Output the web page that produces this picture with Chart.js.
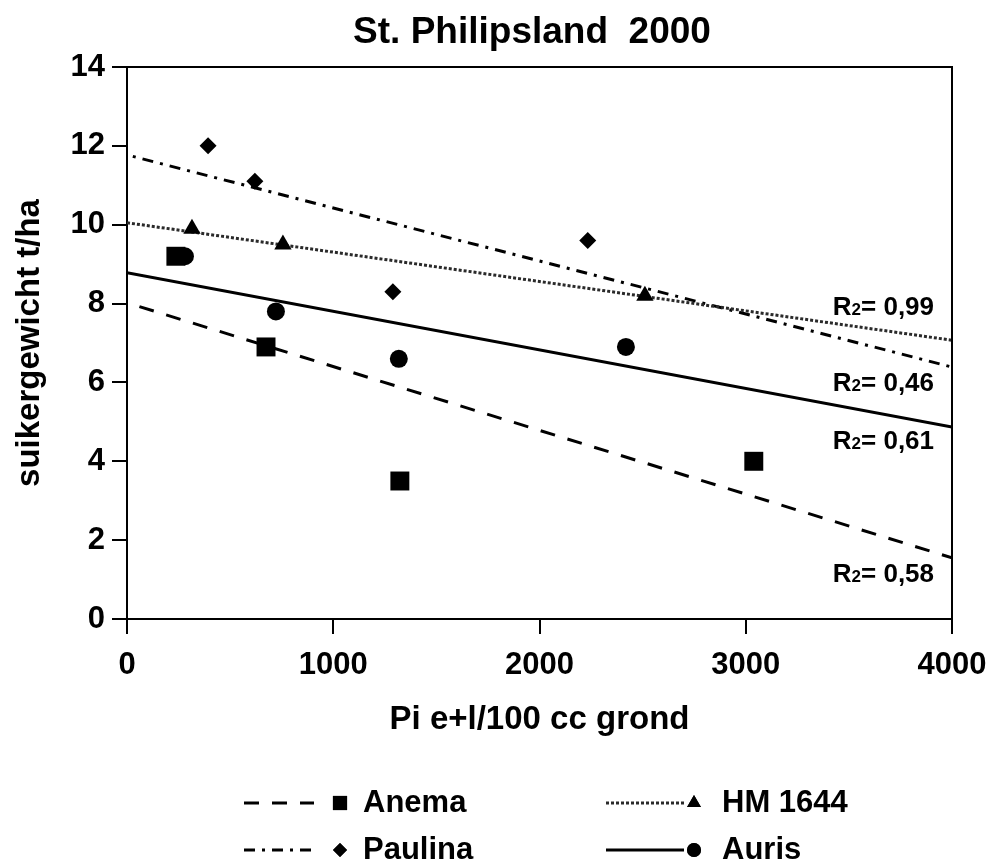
<!DOCTYPE html>
<html><head><meta charset="utf-8">
<script src="https://cdn.jsdelivr.net/npm/chart.js@4"></script>
<style>html,body{margin:0;padding:0;background:#fff;} #wrap{width:994px;height:867px;position:relative;}</style>
</head><body><div id="wrap"><canvas id="c"></canvas></div>
<script>
// ---- data ----
const chartTitle = 'St. Philipsland  2000';
const xTitle = 'Pi e+l/100 cc grond';
const yTitle = 'suikergewicht t/ha';
const seriesNames = ['Anema', 'HM 1644', 'Paulina', 'Auris'];
const anemaX = [237, 674, 1323, 3039];
const anemaY = [9.2, 6.9, 3.5, 4.0];
const hmX = [315, 756, 2511];
const hmY = [9.9, 9.5, 8.2];
const paulinaX = [393, 620, 1289, 2234];
const paulinaY = [12.0, 11.1, 8.3, 9.6];
const aurisX = [281, 722, 1318, 2419];
const aurisY = [9.2, 7.8, 6.6, 6.9];
const trendX = [0, 4000];
const anemaTrend = [8.02, 1.55];
const hmTrend = [10.05, 7.07];
const paulinaTrend = [11.77, 6.39];
const aurisTrend = [8.78, 4.87];
const r2Values = ['0,99', '0,46', '0,61', '0,58'];
const r2X = [3422, 3422, 3422, 3422];
const r2Y = [7.94, 6.01, 4.54, 1.17];
const xTicks = [0, 1000, 2000, 3000, 4000];
const yTicks = [0, 2, 4, 6, 8, 10, 12, 14];

// ---- styles ----
const FONT = 'Liberation Sans, Arial, Helvetica, sans-serif';
const styles = [
  {color: '#000', dash: [15, 13], dashOffset: 15, point: 'rect', r: 13.4, legR: 10},
  {color: '#2a2a2a', dash: [3, 2], dashOffset: 0, point: 'triangle', r: 10, legR: 8},
  {color: '#000', dash: [11, 7, 3, 7], dashOffset: 12, point: 'rectRot', r: 8.5, legR: 7},
  {color: '#000', dash: [], dashOffset: 0, point: 'circle', r: 9, legR: 7}
];
const xs = [anemaX, hmX, paulinaX, aurisX];
const ys = [anemaY, hmY, paulinaY, aurisY];
const trends = [anemaTrend, hmTrend, paulinaTrend, aurisTrend];

const datasets = [];
seriesNames.forEach((name, i) => {
  datasets.push({
    type: 'scatter', label: name,
    data: xs[i].map((x, k) => ({x: x, y: ys[i][k]})),
    pointStyle: styles[i].point, pointRadius: styles[i].r, pointHoverRadius: styles[i].r,
    backgroundColor: '#000', borderColor: '#000', borderWidth: 0, order: 0
  });
});
seriesNames.forEach((name, i) => {
  datasets.push({
    type: 'line', label: name + ' trend',
    data: trendX.map((x, k) => ({x: x, y: trends[i][k]})),
    borderColor: styles[i].color, borderWidth: 3, borderDash: styles[i].dash,
    borderDashOffset: styles[i].dashOffset, pointRadius: 0, fill: false, tension: 0, order: 1
  });
});

const framePlugin = {
  id: 'frame',
  afterDraw(chart) {
    const {ctx, chartArea: a} = chart;
    ctx.save();
    ctx.strokeStyle = '#000'; ctx.lineWidth = 2;
    ctx.beginPath();
    ctx.moveTo(a.left, a.top); ctx.lineTo(a.right, a.top); ctx.lineTo(a.right, a.bottom);
    ctx.stroke();
    // title
    ctx.fillStyle = '#000';
    ctx.font = 'bold 37px ' + FONT;
    ctx.textAlign = 'center'; ctx.textBaseline = 'middle';
    ctx.fillText(chartTitle, 532, 33);
    // R2 labels
    const sx = chart.scales.x, sy = chart.scales.y;
    ctx.textAlign = 'left'; ctx.textBaseline = 'alphabetic';
    r2Values.forEach((v, i) => {
      let px = sx.getPixelForValue(r2X[i]);
      const py = sy.getPixelForValue(r2Y[i]) + 9;
      ctx.font = 'bold 26px ' + FONT;
      ctx.fillText('R', px, py); px += ctx.measureText('R').width;
      ctx.font = 'bold 17px ' + FONT;
      ctx.fillText('2', px, py); px += ctx.measureText('2').width;
      ctx.font = 'bold 26px ' + FONT;
      ctx.fillText('= ' + v, px, py);
    });
    // legend
    const cols = [{lx0: 244, lx1: 314, mx: 340, tx: 363}, {lx0: 606, lx1: 684, mx: 694, tx: 722}];
    const rows = [803, 850];
    const place = [[0, 0], [0, 1], [1, 0], [1, 1]]; // [row, col]
    seriesNames.forEach((name, i) => {
      const c = cols[place[i][1]], y = rows[place[i][0]];
      const st = styles[i];
      ctx.save();
      ctx.strokeStyle = st.color; ctx.lineWidth = 3;
      ctx.setLineDash(st.dash);
      ctx.lineDashOffset = 0;
      ctx.beginPath(); ctx.moveTo(c.lx0, y); ctx.lineTo(c.lx1, y); ctx.stroke();
      ctx.restore();
      ctx.fillStyle = '#000';
      Chart.helpers.drawPoint(ctx, {pointStyle: st.point, radius: st.legR, borderWidth: 0, rotation: 0}, c.mx, y);
      ctx.fill();
      ctx.font = 'bold 31px ' + FONT;
      ctx.textAlign = 'left'; ctx.textBaseline = 'middle';
      ctx.fillText(name, c.tx, y);
    });
    ctx.restore();
  }
};

new Chart(document.getElementById('c'), {
  data: {datasets},
  options: {
    responsive: true, maintainAspectRatio: false, animation: false,
    layout: {padding: {top: 67, right: 42, bottom: 120, left: 0}},
    plugins: {legend: {display: false}, tooltip: {enabled: false}, title: {display: false}},
    scales: {
      x: {
        type: 'linear', min: 0, max: 4000,
        afterBuildTicks: s => { s.ticks = xTicks.map(v => ({value: v})); },
        afterFit: s => { s.height = 128; s.paddingLeft = 0; s.paddingRight = 0; },
        ticks: {color: '#000', padding: 13, font: {family: FONT, size: 31, weight: 'bold'}, callback: v => String(v)},
        grid: {drawOnChartArea: false, drawTicks: true, tickLength: 15, color: '#000', lineWidth: 2},
        border: {display: true, color: '#000', width: 2},
        title: {display: true, text: xTitle, color: '#000', font: {family: FONT, size: 33, weight: 'bold'}, padding: {top: 0, bottom: 7}}
      },
      y: {
        type: 'linear', min: 0, max: 14,
        afterBuildTicks: s => { s.ticks = yTicks.map(v => ({value: v})); },
        afterFit: s => { s.width = 127; s.paddingTop = 0; s.paddingBottom = 0; },
        ticks: {color: '#000', padding: 7, font: {family: FONT, size: 31, weight: 'bold'}, callback: v => String(v)},
        grid: {drawOnChartArea: false, drawTicks: true, tickLength: 15, color: '#000', lineWidth: 2},
        border: {display: true, color: '#000', width: 2},
        title: {display: true, text: yTitle, color: '#000', font: {family: FONT, size: 33, weight: 'bold'}, padding: {top: 10, bottom: 0}}
      }
    }
  },
  plugins: [framePlugin]
});
</script>
</body></html>
